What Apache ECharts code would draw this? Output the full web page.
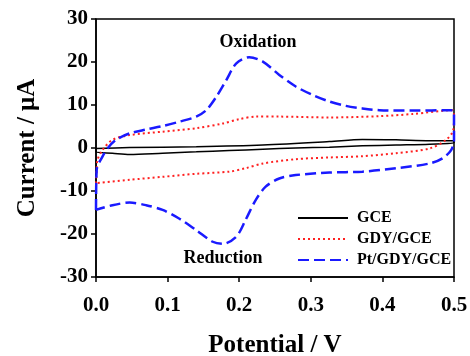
<!DOCTYPE html>
<html>
<head>
<meta charset="utf-8">
<script src="https://cdn.jsdelivr.net/npm/echarts@6/dist/echarts.min.js"></script>
<style>
  html, body { margin: 0; padding: 0; background: #fff; }
  #main { width: 470px; height: 356px; }
</style>
</head>
<body>
<div id="main"></div>
<script>
// cyclic voltammograms (potential V, current uA)
var gceE = [0, 0.047, 0.14, 0.233, 0.326, 0.372, 0.419, 0.466, 0.5, 0.5, 0.466, 0.419, 0.372, 0.326, 0.279, 0.233, 0.186, 0.14, 0.093, 0.047, 0.023, 0, 0];
var gceI = [-0.1, 0.1, 0.3, 0.7, 1.5, 2.0, 1.9, 1.7, 1.7, 1.2, 0.9, 0.7, 0.5, 0.2, 0, -0.3, -0.6, -0.9, -1.2, -1.5, -1.2, -0.9, -0.1];

var gdyE = [0, 0.001, 0.002, 0.009, 0.023, 0.047, 0.093, 0.14, 0.177, 0.2, 0.223, 0.256, 0.326, 0.396, 0.442, 0.498, 0.5, 0.499, 0.489, 0.466, 0.419, 0.372, 0.326, 0.279, 0.233, 0.209, 0.186, 0.14, 0.093, 0.047, 0];
var gdyI = [-8.2, -5, -2.8, -0.5, 1.9, 3.0, 3.8, 4.6, 5.7, 6.7, 7.3, 7.3, 7.1, 7.4, 7.9, 8.8, 7.3, 4.2, 1.9, -0.1, -1.2, -1.9, -2.2, -2.6, -3.6, -4.7, -5.5, -6.0, -6.7, -7.4, -8.2];

var ptE = [0, 0.001, 0.009, 0.016, 0.028, 0.047, 0.07, 0.093, 0.116, 0.14, 0.154, 0.168, 0.182, 0.196, 0.214, 0.233, 0.256, 0.279, 0.303, 0.326, 0.349, 0.372, 0.396, 0.442, 0.498, 0.5, 0.5,
  0.496, 0.484, 0.466, 0.419, 0.372, 0.326, 0.279, 0.256, 0.237, 0.223, 0.209, 0.196, 0.177, 0.163, 0.14, 0.116, 0.093, 0.07, 0.047, 0.023, 0];
var ptI = [-14.4, -5, -2.0, -0.1, 1.9, 3.4, 4.3, 5.1, 6.1, 7.3, 8.8, 11.9, 15.8, 19.7, 21.1, 20.1, 17.0, 14.3, 12.3, 10.8, 9.8, 9.2, 8.8, 8.7, 8.8, 8.0, 1.9,
  -0.5, -2.4, -3.6, -4.7, -5.5, -5.7, -6.3, -7.1, -9.0, -12.1, -16.7, -20.6, -22.3, -21.8, -19.1, -16.4, -14.4, -13.3, -12.7, -13.3, -14.4];

var names = ['GCE', 'GDY/GCE', 'Pt/GDY/GCE'];
var xTicks = [0, 0.5, 0.1];
var yTicks = [-30, 30, 10];

function pairs(xs, ys) {
  var out = [];
  for (var i = 0; i < xs.length; i++) out.push([xs[i], ys[i]]);
  return out;
}

var font = 'Liberation Serif';
var chart = echarts.init(document.getElementById('main'), null, { renderer: 'canvas' });

var option = {
  animation: false,
  backgroundColor: '#fff',
  grid: {
    left: 96, right: 16, top: 19, bottom: 79,
    outerBoundsMode: 'none',
    show: true, borderColor: '#000', borderWidth: 1.5
  },
  legend: {
    orient: 'vertical',
    left: 292, top: 205,
    itemWidth: 50, itemHeight: 14, itemGap: 5,
    data: names,
    itemStyle: { opacity: 0 },
    textStyle: { fontFamily: font, fontWeight: 'bold', fontSize: 16, color: '#000', padding: [0, 0, 0, 4] }
  },
  xAxis: {
    type: 'value',
    min: xTicks[0], max: xTicks[1], interval: xTicks[2],
    name: 'Potential / V',
    nameLocation: 'middle',
    nameGap: 56,
    nameTextStyle: { fontFamily: font, fontWeight: 'bold', fontSize: 25, color: '#000' },
    axisLine: { onZero: false, lineStyle: { color: '#000', width: 1.5 } },
    axisTick: { inside: false, length: 5, lineStyle: { color: '#000', width: 1.5 } },
    splitLine: { show: false },
    axisLabel: {
      margin: 18,
      fontFamily: font, fontWeight: 'bold', fontSize: 21, color: '#000',
      formatter: function (v) { return v.toFixed(1); }
    }
  },
  yAxis: {
    type: 'value',
    min: yTicks[0], max: yTicks[1], interval: yTicks[2],
    name: 'Current / \u03bcA',
    nameLocation: 'middle',
    nameGap: 56,
    nameTextStyle: { fontFamily: font, fontWeight: 'bold', fontSize: 25, color: '#000' },
    axisLine: { onZero: false, lineStyle: { color: '#000', width: 1.5 } },
    axisTick: { inside: false, length: 5, lineStyle: { color: '#000', width: 1.5 } },
    splitLine: { show: false },
    axisLabel: { margin: 8, fontFamily: font, fontWeight: 'bold', fontSize: 21, color: '#000' }
  },
  graphic: [
    { type: 'text', style: { text: 'Oxidation', x: 258, y: 42, textAlign: 'center', textVerticalAlign: 'middle', fontFamily: font, fontWeight: 'bold', fontSize: 18, fill: '#000' } },
    { type: 'text', style: { text: 'Reduction', x: 223, y: 258, textAlign: 'center', textVerticalAlign: 'middle', fontFamily: font, fontWeight: 'bold', fontSize: 18, fill: '#000' } }
  ],
  series: [
    {
      name: names[0], type: 'line', symbol: 'none', smooth: 0.3,
      data: pairs(gceE, gceI),
      lineStyle: { color: '#000', width: 1.5, type: 'solid' },
      itemStyle: { color: '#000' }
    },
    {
      name: names[1], type: 'line', symbol: 'none', smooth: 0.3,
      data: pairs(gdyE, gdyI),
      lineStyle: { color: '#ff2020', width: 2, type: [2, 3] },
      itemStyle: { color: '#ff2020' }
    },
    {
      name: names[2], type: 'line', symbol: 'none', smooth: 0.3,
      data: pairs(ptE, ptI),
      lineStyle: { color: '#1a1aff', width: 2.5, type: [11, 5] },
      itemStyle: { color: '#1a1aff' }
    }
  ]
};

chart.setOption(option);
</script>
</body>
</html>
